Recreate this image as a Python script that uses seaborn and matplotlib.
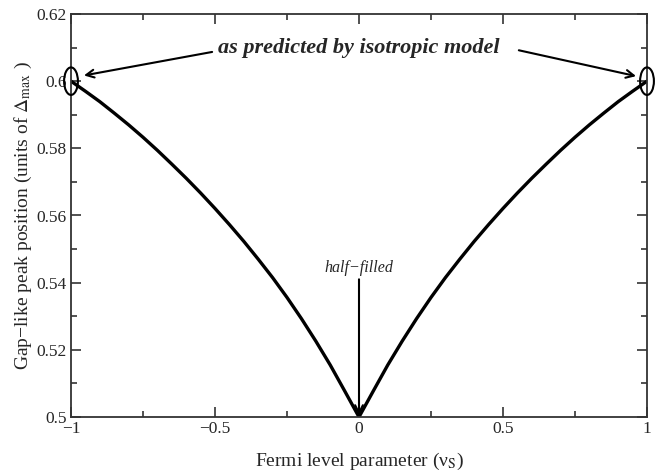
import matplotlib
matplotlib.use("Agg")
import matplotlib.pyplot as plt
from matplotlib.patches import Ellipse
import numpy as np
import pandas as pd
import seaborn as sns

# Fermi level parameter and the gap-like peak position (units of Delta_max)
nu_s = [-1.0, -0.95, -0.9, -0.85, -0.8, -0.75, -0.7, -0.65, -0.6, -0.55, -0.5,
        -0.45, -0.4, -0.35, -0.3, -0.25, -0.2, -0.15, -0.1, -0.05, 0.0,
        0.05, 0.1, 0.15, 0.2, 0.25, 0.3, 0.35, 0.4, 0.45, 0.5,
        0.55, 0.6, 0.65, 0.7, 0.75, 0.8, 0.85, 0.9, 0.95, 1.0]
peak_pos = [0.6000, 0.5970, 0.5939, 0.5905, 0.5870, 0.5833, 0.5794, 0.5753, 0.5711, 0.5667, 0.5621,
            0.5573, 0.5523, 0.5470, 0.5415, 0.5356, 0.5293, 0.5226, 0.5155, 0.5078, 0.5000,
            0.5078, 0.5155, 0.5226, 0.5293, 0.5356, 0.5415, 0.5470, 0.5523, 0.5573, 0.5621,
            0.5667, 0.5711, 0.5753, 0.5794, 0.5833, 0.5870, 0.5905, 0.5939, 0.5970, 0.6000]

x_ticks = [-1, -0.5, 0, 0.5, 1]
x_tick_labels = ["\u22121", "\u22120.5", "0", "0.5", "1"]
y_ticks = [0.5, 0.52, 0.54, 0.56, 0.58, 0.6, 0.62]
y_tick_labels = ["0.5", "0.52", "0.54", "0.56", "0.58", "0.6", "0.62"]

df = pd.DataFrame({"nu_s": nu_s, "peak": peak_pos})

sns.set_style("ticks")
plt.rcParams["font.family"] = ["Liberation Serif", "DejaVu Serif"]
plt.rcParams["mathtext.fontset"] = "stix"

fig = plt.figure(figsize=(6.69, 4.74), dpi=100)
ax = fig.add_axes([71 / 669, 57 / 474, 576 / 669, 403 / 474])

sns.lineplot(data=df, x="nu_s", y="peak", ax=ax, color="black", linewidth=2.4,
             estimator=None, sort=False)

ax.set_xlim(-1, 1)
ax.set_ylim(0.5, 0.62)
ax.set_xticks(x_ticks)
ax.set_xticklabels(x_tick_labels)
ax.set_yticks(y_ticks)
ax.set_yticklabels(y_tick_labels)
ax.set_xticks(np.arange(-1, 1.01, 0.25), minor=True)
ax.set_yticks(np.arange(0.5, 0.6201, 0.01), minor=True)
ax.tick_params(which="both", direction="in", top=True, right=True,
               color="#333333", width=1.2)
ax.tick_params(which="major", length=7.5, labelsize=12.5, pad=3)
ax.tick_params(which="minor", length=4.5)
for sp in ax.spines.values():
    sp.set_visible(True)
    sp.set_linewidth(1.3)
    sp.set_color("#333333")

ax.set_xlabel("Fermi level parameter (\u03bd$_{\\mathrm{S}}$)", fontsize=14, labelpad=10)
ax.set_ylabel("Gap\u2212like peak position (units of $\\Delta_{\\mathrm{max}}$ )",
              fontsize=14, labelpad=2)

# Markers around the isotropic-model values at the band edges
for xc in (-1, 1):
    ax.add_patch(Ellipse((xc, 0.6), width=0.048, height=0.0082, fill=False,
                         edgecolor="black", linewidth=1.5, clip_on=False, zorder=5))

ax.text(0.0, 0.6099, "as predicted by isotropic model", ha="center", va="center",
        fontsize=16, fontweight="bold", fontstyle="italic")
arrow = dict(arrowstyle="->", color="black", lw=1.5, mutation_scale=14, shrinkA=0, shrinkB=0)
ax.annotate("", xy=(-0.955, 0.6017), xytext=(-0.51, 0.6087), arrowprops=arrow)
ax.annotate("", xy=(0.962, 0.6015), xytext=(0.555, 0.6092), arrowprops=arrow)

ax.text(0.0, 0.5445, "half\u2212filled", ha="center", va="center",
        fontsize=11.5, fontstyle="italic")
ax.annotate("", xy=(0.0, 0.5005), xytext=(0.0, 0.541), arrowprops=arrow)

fig.savefig("out.png", dpi=100)
